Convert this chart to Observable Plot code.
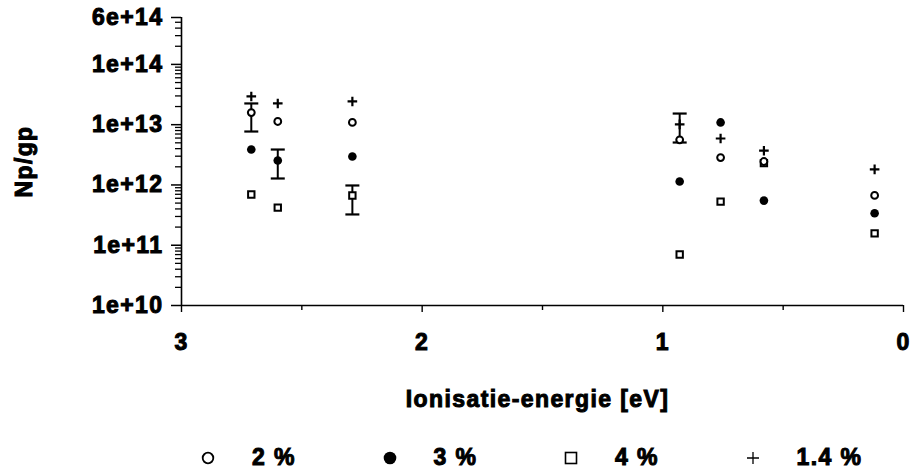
<!DOCTYPE html>
<html>
<head>
<meta charset="utf-8">
<script src="https://cdn.jsdelivr.net/npm/d3@7"></script>
<script src="https://cdn.jsdelivr.net/npm/@observablehq/plot@0.6"></script>
<style>
  html, body { margin: 0; padding: 0; background: #fff; }
  #chart { width: 915px; height: 473px; font-family: "Liberation Sans", Arial, sans-serif; font-weight: 700; color: #000; }
  #chart > svg text { stroke: #000; stroke-width: 1px; paint-order: stroke; letter-spacing: 1.4px; }
  .legend { display: flex; height: 43px; box-sizing: border-box; padding-top: 12px; padding-left: 201px; align-items: center; }
  .legend .item { width: 181.5px; display: flex; align-items: center; flex: none; }
  .legend svg { width: 14px; height: 14px; flex: none; margin-right: 37px; overflow: visible; }
  .legend span { font-size: 23px; font-weight: 700; -webkit-text-stroke: 1px #000; letter-spacing: 1.4px; line-height: 1; }
</style>
</head>
<body>
<div id="chart"></div>
<script>
// Ionisation energy of each sample [eV]
const energies = [2.71, 2.60, 2.29, 0.93, 0.76, 0.58, 0.12];

// Series labels
const series = ["2 %", "3 %", "4 %", "1.4 %"];

// Np/gp per series, one value per energy
const np2  = [1.59e13, 1.13e13, 1.09e13, 5.6e12, 2.85e12, 2.45e12, 6.7e11];
const np3  = [3.87e12, 2.55e12, 2.96e12, 1.14e12, 1.09e13, 5.5e11, 3.4e11];
const np4  = [6.95e11, 4.2e11, 6.7e11, 7.0e10, 5.3e11, 2.3e12, 1.57e11];
const np14 = [2.94e13, 2.25e13, 2.43e13, 1.01e13, 5.9e12, 3.7e12, 1.81e12];

// Error bars: energy, lower and upper bound
const errEnergy = [2.71, 2.60, 2.29, 0.93];
const errLow    = [7.7e12, 1.28e12, 3.24e11, 5.06e12];
const errHigh   = [2.25e13, 3.87e12, 9.8e11, 1.53e13];

// Axis ticks
const xTicks = [3, 2, 1, 0];
const xMinorTicks = [2.5, 1.5, 0.5];
const yTicks = [1e10, 1e11, 1e12, 1e13, 1e14, 6e14];
const yMinorMultipliers = [2, 3, 4, 5, 6, 7, 8, 9];
const yDecades = [1e10, 1e11, 1e12, 1e13, 1e14];
const yMinorTicks = yDecades
  .flatMap(d => yMinorMultipliers.map(m => m * d))
  .filter(v => v < 6e14);

const expFormat = d3.format(".0e");

// Horizontal cap drawn at each end of an error bar
const capSymbol = {
  draw(context) {
    context.moveTo(-7, 0);
    context.lineTo(7, 0);
  }
};

const chart = Plot.plot({
  width: 915,
  height: 430,
  marginLeft: 181,
  marginRight: 12,
  marginTop: 17,
  marginBottom: 125,
  x: {domain: [3, 0]},
  y: {type: "log", domain: [1e10, 6e14]},
  style: {
    fontFamily: '"Liberation Sans", Arial, sans-serif',
    fontSize: "23px",
    fontWeight: 700,
    color: "#000",
    background: "#fff",
    overflow: "visible"
  },
  marks: [
    // frame lines
    Plot.ruleX([3], {y1: 1e10, y2: 6e14, stroke: "#000", strokeWidth: 1.6}),
    Plot.ruleY([1e10], {x1: 3, x2: 0, stroke: "#000", strokeWidth: 1.6}),

    // axes (labels given as text so the log scale keeps every one)
    Plot.axisY(yMinorTicks, {tickSize: 6, text: null, label: null, strokeWidth: 1.3}),
    Plot.axisY(yTicks, {tickSize: 10, tickPadding: 8, text: d => expFormat(d), label: null, strokeWidth: 1.5}),
    Plot.axisX(xMinorTicks, {tickSize: 5, text: null, label: null, strokeWidth: 1.4}),
    Plot.axisX(xTicks, {tickSize: 7, tickPadding: 21, text: d => String(d), label: null, strokeWidth: 1.4}),

    // axis titles
    Plot.text(["Np/gp"], {frameAnchor: "left", textAnchor: "middle", dx: -157, rotate: -90, fontSize: 23, fontWeight: 700}),
    Plot.text(["Ionisatie-energie [eV]"], {frameAnchor: "bottom", dx: -5, dy: 101, fontSize: 23, fontWeight: 700}),

    // error bars
    Plot.ruleX(errEnergy, {x: d => d, y1: (d, i) => errLow[i], y2: (d, i) => errHigh[i], stroke: "#000", strokeWidth: 2}),
    Plot.dot(errEnergy, {x: d => d, y: (d, i) => errLow[i], symbol: capSymbol, stroke: "#000", strokeWidth: 2.2, fill: "none"}),
    Plot.dot(errEnergy, {x: d => d, y: (d, i) => errHigh[i], symbol: capSymbol, stroke: "#000", strokeWidth: 2.2, fill: "none"}),

    // 4 %: open squares
    Plot.dot(energies, {x: d => d, y: (d, i) => np4[i], symbol: "square", r: 3.6, stroke: "#000", strokeWidth: 2, fill: "#fff"}),
    // 2 %: open circles
    Plot.dot(energies, {x: d => d, y: (d, i) => np2[i], symbol: "circle", r: 3.4, stroke: "#000", strokeWidth: 2, fill: "#fff"}),
    // 3 %: filled circles
    Plot.dot(energies, {x: d => d, y: (d, i) => np3[i], symbol: "circle", r: 4.3, fill: "#000", stroke: "none"}),
    // 1.4 %: plus signs
    Plot.dot(energies, {x: d => d, y: (d, i) => np14[i], symbol: "plus", r: 3.2, stroke: "#000", strokeWidth: 2.2})
  ]
});

const root = document.getElementById("chart");
root.append(chart);

// legend below the plot
const legendSymbols = [
  '<circle cx="7" cy="7" r="5.3" fill="none" stroke="#000" stroke-width="1.8"/>',
  '<circle cx="7" cy="7" r="6.3" fill="#000"/>',
  '<rect x="1.5" y="1.5" width="11" height="11" fill="none" stroke="#000" stroke-width="1.6"/>',
  '<path d="M7 1V13M1 7H13" stroke="#000" stroke-width="1.3"/>'
];
const legend = document.createElement("div");
legend.className = "legend";
series.forEach((name, i) => {
  const item = document.createElement("div");
  item.className = "item";
  item.innerHTML = `<svg viewBox="0 0 14 14">${legendSymbols[i]}</svg><span>${name}</span>`;
  legend.append(item);
});
root.append(legend);
</script>
</body>
</html>
